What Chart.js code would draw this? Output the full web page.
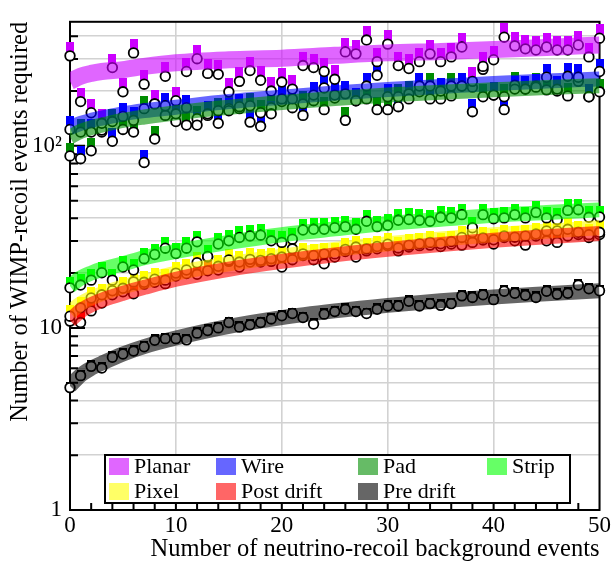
<!DOCTYPE html>
<html>
<head>
<meta charset="utf-8">
<title>WIMP-recoil events required</title>
<script src="https://cdn.jsdelivr.net/npm/chart.js@4.4.0/dist/chart.umd.min.js"></script>
<style>
  html, body { margin: 0; padding: 0; background: #fff; }
  #wrap { width: 613px; height: 563px; }
</style>
</head>
<body>
<div id="wrap"><canvas id="sensitivity" width="613" height="563"></canvas></div>
<script>
// background event counts for the simulated points
const nuEvents = [0,1,2,3,4,5,6,7,8,9,10,11,12,13,14,15,16,17,18,19,20,21,22,23,24,25,
  26,27,28,29,30,31,32,33,34,35,36,37,38,39,40,41,42,43,44,45,46,47,48,49,50];

// WIMP events needed, one value per background count
const planar = [312,175,152,133,269,198,324,218,170,241,177,256,301,250,247,198,226,259,229,200,
  224,205,276,269,256,232,328,320,381,290,362,276,266,290,320,290,308,349,226,273,
  297,395,354,341,336,349,336,336,358,308,390];
const wire = [123,85,119,122,106,145,138,81,170,166,150,162,130,150,133,156,164,135,128,150,
  181,181,147,190,208,190,193,177,213,244,186,164,181,213,181,200,188,213,154,263,
  190,158,205,205,210,238,205,241,238,186,256];
const pad = [88,119,94,119,136,123,119,160,109,147,136,130,141,147,156,160,160,166,152,162,
  175,162,170,177,158,183,138,177,181,158,158,186,193,198,213,181,213,213,210,186,
  190,186,215,205,213,203,200,188,226,186,198];
const strip = [16.6,17.2,18.3,20.1,18.3,21.6,20.8,24.0,25.3,27.4,25.6,27.4,29.7,24.7,28.9,30.1,31.4,32.0,32.3,30.1,
  29.5,30.7,34.5,34.8,34.8,35.5,36.0,34.8,38.5,36.0,36.6,39.0,39.4,39.0,38.5,40.5,40.2,41.9,35.5,41.9,
  39.8,40.2,41.9,40.2,43.1,40.2,39.4,44.2,44.6,40.5,40.7];
const pixel = [11.6,12.9,14.6,15.2,16.0,16.5,17.9,17.8,18.5,18.3,20.0,20.8,22.8,24.5,21.8,23.6,23.0,23.8,23.5,24.0,
  24.5,27.2,25.5,25.0,25.5,25.5,27.0,27.8,27.2,28.0,28.8,27.5,28.5,29.0,29.5,29.0,29.8,31.4,33.4,31.2,
  30.5,32.0,31.5,32.0,32.8,34.1,34.1,34.8,33.5,32.5,33.5];
const postDrift = [10.9,10.7,12.4,13.7,15.2,15.8,15.4,17.4,17.8,17.5,19.3,19.9,19.7,20.6,20.8,23.2,21.6,23.0,23.0,23.2,
  21.6,23.7,25.0,23.7,22.5,24.5,26.3,24.5,26.5,27.2,28.3,26.5,27.8,28.3,28.5,28.0,28.9,28.5,29.5,30.4,
  28.9,31.4,30.1,28.5,32.0,30.1,29.5,32.0,32.6,31.4,32.6];
const preDrift = [4.70,5.47,6.15,6.02,6.90,7.19,7.46,7.88,8.55,8.73,8.73,8.60,9.36,9.68,10.0,10.7,10.1,10.4,10.7,11.2,
  11.65,12.0,11.4,10.5,11.9,12.3,12.65,12.3,12.0,12.65,13.2,13.2,14.0,13.2,13.6,13.3,13.6,15.0,14.7,15.2,
  14.3,15.9,15.5,15.1,14.7,15.9,15.3,15.5,17.2,16.4,16.0];

// smooth fitted trend for each readout
const fitX = [0,1,2,3,5,7,10,15,20,25,30,35,40,45,50];
const planarFit = [226,241,250,256,262,273,286,297,303,314,324,330,338,347,358];
const wireFit = [126,133,138,142,150,156,163,175,185,195,204,212,220,227,233];
const padFit = [112,120,126,130,138,144,152,163,173,182,190,197,203,209,214];
const stripFit = [17.0,18.8,20.0,21.0,22.5,24.3,26.3,29.5,32.5,35.0,37.5,39.5,41.5,43.0,44.5];
const pixelFit = [12.2,13.6,14.6,15.4,16.8,18.0,20.0,22.5,24.8,27.0,29.0,30.8,32.5,34.0,35.5];
const postDriftFit = [11.0,12.4,13.4,14.2,15.5,16.7,18.5,21.0,23.2,25.2,27.0,28.7,30.3,31.7,33.0];
const preDriftFit = [4.8,5.5,6.0,6.4,7.2,7.9,8.8,10.2,11.4,12.4,13.3,14.1,14.8,15.4,16.0];

const seriesNames = ["Planar", "Wire", "Pad", "Strip", "Pixel", "Post drift", "Pre drift"];
const seriesValues = [planar, wire, pad, strip, pixel, postDrift, preDrift];
const seriesFits = [planarFit, wireFit, padFit, stripFit, pixelFit, postDriftFit, preDriftFit];
const seriesRgb = ["204,0,255", "0,0,255", "0,141,0", "0,255,0", "255,255,0", "255,0,0", "0,0,0"];
// how far each square marker sits above its open circle (px)
const squareLift = [9, 8, 8, 6, 6, 6, 1];

// axis ticks
const xTickValues = [0, 10, 20, 30, 40, 50];
const yTickValues = [1,2,3,4,5,6,7,8,9,10,20,30,40,50,60,70,80,90,100,200,300,400];
const yTickLabels = { 1: "1", 10: "10", 100: "10\u00b2" };

const xTitle = "Number of neutrino-recoil background events";
const yTitle = "Number of WIMP-recoil events required";

const serif = "'Liberation Serif', 'Times New Roman', serif";
const tickFont = { family: serif, size: 23 };
const titleFont = { family: serif, size: 24.5 };
const gridColor = "#d2d2d2";

// filled square drawn a little above the data point
function squareMarker(rgb, lift) {
  const c = document.createElement("canvas");
  c.width = 8;
  c.height = 2 * (lift + 5);
  const g = c.getContext("2d");
  g.fillStyle = "rgb(" + rgb + ")";
  g.fillRect(0, 0, 8, 10);
  return c;
}

const datasets = [];
seriesNames.forEach((name, i) => {
  const pts = nuEvents.map((x, j) => ({ x: x, y: seriesValues[i][j] }));
  datasets.push({
    label: name + " squares",
    data: pts,
    showLine: false,
    pointStyle: squareMarker(seriesRgb[i], squareLift[i]),
    pointRadius: 5,
    clip: false,
    order: 20
  });
  datasets.push({
    label: name + " points",
    data: pts,
    showLine: false,
    pointStyle: "circle",
    pointRadius: 4.8,
    pointBorderWidth: 1.8,
    pointBorderColor: "#000",
    pointBackgroundColor: "#fff",
    clip: false,
    order: 10
  });
  datasets.push({
    label: name,
    data: fitX.map((x, j) => ({ x: x, y: seriesFits[i][j] })),
    borderColor: "rgba(" + seriesRgb[i] + ",0.6)",
    borderWidth: i === 0 ? 17 : 15,
    borderCapStyle: "butt",
    cubicInterpolationMode: "monotone",
    pointRadius: 0,
    fill: false,
    clip: 0,
    order: 6 - i
  });
});

// black frame with inward tick marks
const frameTicks = {
  id: "frameTicks",
  beforeDatasetsDraw(chart) {
    const { ctx, chartArea: a, scales } = chart;
    ctx.save();
    ctx.strokeStyle = "#000";
    ctx.lineWidth = 2;
    ctx.beginPath();
    yTickValues.forEach(v => {
      const py = scales.y.getPixelForValue(v);
      const len = yTickLabels[v] ? 15 : 8;
      ctx.moveTo(a.left, py);
      ctx.lineTo(a.left + len, py);
    });
    for (let v = 2; v < 50; v += 2) {
      const px = scales.x.getPixelForValue(v);
      const len = v % 10 === 0 ? 14 : 7;
      ctx.moveTo(px, a.bottom);
      ctx.lineTo(px, a.bottom - len);
    }
    ctx.stroke();
    ctx.strokeRect(a.left, a.top, a.right - a.left, a.bottom - a.top);
    ctx.restore();
  }
};

// boxed two-row legend inside the plot
const boxLegend = {
  id: "boxLegend",
  afterDraw(chart) {
    const ctx = chart.ctx;
    const cols = [109, 216, 358, 487];
    const rows = [466, 491];
    ctx.save();
    ctx.fillStyle = "#fff";
    ctx.fillRect(105, 455, 465, 48);
    ctx.strokeStyle = "#000";
    ctx.lineWidth = 2;
    ctx.strokeRect(105, 455, 465, 48);
    ctx.font = "22px " + serif;
    ctx.textBaseline = "middle";
    seriesNames.forEach((name, i) => {
      const x = cols[i % 4];
      const y = rows[Math.floor(i / 4)];
      ctx.fillStyle = "rgba(" + seriesRgb[i] + ",0.6)";
      ctx.fillRect(x, y - 8, 20, 17);
      ctx.fillStyle = "#000";
      ctx.fillText(name, x + 25, y + 1);
    });
    ctx.restore();
  }
};

new Chart(document.getElementById("sensitivity"), {
  type: "line",
  data: { datasets: datasets },
  options: {
    responsive: false,
    animation: false,
    devicePixelRatio: 1,
    events: [],
    layout: { padding: { top: 10, right: 12, left: 0, bottom: 0 } },
    plugins: { legend: { display: false }, tooltip: { enabled: false } },
    scales: {
      x: {
        type: "linear",
        min: 0,
        max: 50,
        afterFit: s => { s.height = 53; },
        afterBuildTicks: s => { s.ticks = xTickValues.map(v => ({ value: v })); },
        ticks: { autoSkip: false, maxRotation: 0, padding: 2, color: "#000", font: tickFont,
          callback: v => String(v) },
        grid: { color: gridColor, lineWidth: 1.6, drawTicks: false },
        border: { display: false },
        title: { display: true, text: xTitle, align: "end", color: "#000", font: titleFont,
          padding: { top: 0, bottom: -1 } }
      },
      y: {
        type: "logarithmic",
        min: 1,
        max: 480,
        afterFit: s => { s.width = 70; },
        afterBuildTicks: s => { s.ticks = yTickValues.map(v => ({ value: v })); },
        ticks: { autoSkip: false, padding: 8, color: "#000", font: tickFont,
          callback: v => yTickLabels[v] || "" },
        grid: { color: gridColor, lineWidth: 1.6, drawTicks: false },
        border: { display: false },
        title: { display: true, text: yTitle, align: "end", color: "#000", font: titleFont,
          padding: { top: 6, bottom: 0 } }
      }
    }
  },
  plugins: [frameTicks, boxLegend]
});
</script>
</body>
</html>
